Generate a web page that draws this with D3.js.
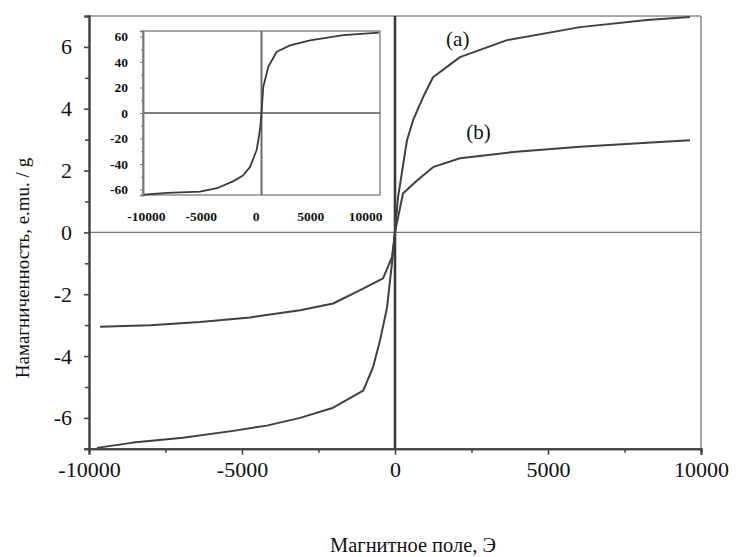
<!DOCTYPE html>
<html>
<head>
<meta charset="utf-8">
<script src="https://cdn.jsdelivr.net/npm/d3@7/dist/d3.min.js"></script>
<style>
  html, body { margin: 0; padding: 0; background: #fff; }
  svg { display: block; }
  text { font-family: "Liberation Serif", "Times New Roman", serif; fill: #111; }
</style>
</head>
<body>
<svg id="chart" width="736" height="557"></svg>
<script>
// ---- data ----
const xTicks = [-10000, -5000, 0, 5000, 10000];
const xMinorTicks = [-7500, -2500, 2500, 7500];
const yTicks = [-6, -4, -2, 0, 2, 4, 6];
const yMinorTicks = [-5, -3, -1, 1, 3, 5];

// curve (a): field (Oe), magnetization (emu/g)
const fieldA = [-9740, -8560, -6930, -5290, -4190, -3100, -2020, -1040, -720, -490, -260, -100, 0, 98, 392, 590, 915, 1242, 2124, 3660, 6050, 8235, 9640];
const magA   = [-6.97, -6.80, -6.64, -6.42, -6.25, -6.00, -5.67, -5.12, -4.37, -3.50, -2.43, -1.00, 0, 1.13, 2.98, 3.63, 4.37, 5.02, 5.67, 6.22, 6.64, 6.87, 6.97];

// curve (b)
const fieldB = [-9640, -8000, -6370, -4740, -3100, -2020, -1140, -390, -100, 0, 261, 720, 1242, 2124, 3860, 6050, 8235, 9640];
const magB   = [-3.05, -3.00, -2.90, -2.75, -2.52, -2.30, -1.87, -1.49, -0.80, 0, 1.26, 1.68, 2.11, 2.40, 2.60, 2.77, 2.90, 2.98];

// inset curve
const fieldIn = [-10700, -8600, -5600, -4060, -2600, -1690, -1050, -440, -140, 0, 165, 620, 1385, 2600, 4420, 7460, 10700];
const magIn   = [-64, -62.7, -61.6, -59, -53.6, -49, -42.5, -29, -13.3, 0, 20.6, 36.3, 48, 53, 57, 61, 63];
const insetXTicks = [-10000, -5000, 0, 5000, 10000];
const insetYTicks = [-60, -40, -20, 0, 20, 40, 60];
const insetYMinor = [-50, -30, -10, 10, 30, 50];

const labelA = "(a)";
const labelB = "(b)";
const xTitle = "Магнитное поле, Э";
const yTitle = "Намагниченность, e.mu. / g";

// ---- layout ----
const svg = d3.select("#chart");
const L = 89, R = 701, T = 16, B = 448.8;
const x = d3.scaleLinear().domain([-10000, 10000]).range([L, R]);
const y = d3.scaleLinear().domain([-7, 7]).range([B, T]);

// frame (top / right)
svg.append("line").attr("x1", L).attr("x2", R).attr("y1", T).attr("y2", T)
  .attr("stroke", "#8a8a8a").attr("stroke-width", 1.5);
svg.append("line").attr("x1", R).attr("x2", R).attr("y1", T).attr("y2", B)
  .attr("stroke", "#8a8a8a").attr("stroke-width", 1.5);

// zero lines
svg.append("line").attr("x1", L).attr("x2", R).attr("y1", y(0)).attr("y2", y(0))
  .attr("stroke", "#7a7a7a").attr("stroke-width", 1.4);
svg.append("line").attr("x1", x(0)).attr("x2", x(0)).attr("y1", T).attr("y2", B)
  .attr("stroke", "#3a3a3a").attr("stroke-width", 2.6);

// axes
const axStyle = g => {
  g.selectAll(".domain").attr("stroke", "#444").attr("stroke-width", 2);
  g.selectAll(".tick line").attr("stroke", "#444").attr("stroke-width", 1.6);
  g.selectAll("text").attr("font-size", 22).attr("font-family", "Liberation Serif").attr("fill", "#111");
};
svg.append("g").attr("transform", `translate(0,${B})`)
  .call(d3.axisBottom(x).tickValues(xMinorTicks).tickFormat("").tickSize(4))
  .call(axStyle);
svg.append("g").attr("transform", `translate(0,${B})`)
  .call(d3.axisBottom(x).tickValues(xTicks).tickSize(6).tickPadding(7).tickFormat(d3.format("d")))
  .call(axStyle);
svg.append("g").attr("transform", `translate(${L},0)`)
  .call(d3.axisLeft(y).tickValues(yMinorTicks).tickFormat("").tickSize(4))
  .call(axStyle);
svg.append("g").attr("transform", `translate(${L},0)`)
  .call(d3.axisLeft(y).tickValues(yTicks).tickSize(5).tickPadding(12).tickFormat(d3.format("d")))
  .call(axStyle);
svg.selectAll("g.tick text").each(function () {
  const t = d3.select(this); t.text(t.text().replace("−", "-"));
});

// curves
const line = d3.line().x(d => x(d[0])).y(d => y(d[1]));
const dataA = fieldA.map((f, i) => [f, magA[i]]);
const dataB = fieldB.map((f, i) => [f, magB[i]]);
[dataA, dataB].forEach(d => {
  svg.append("path").datum(d).attr("d", line)
    .attr("fill", "none").attr("stroke", "#404040").attr("stroke-width", 2)
    .attr("stroke-linejoin", "round");
});

// curve labels
svg.append("text").attr("x", x(2050)).attr("y", y(6.0) - 1).attr("text-anchor", "middle")
  .attr("font-size", 21).text(labelA);
svg.append("text").attr("x", x(2730)).attr("y", y(3.0) - 1).attr("text-anchor", "middle")
  .attr("font-size", 21).text(labelB);

// titles
svg.append("text").attr("x", 413).attr("y", 552).attr("text-anchor", "middle")
  .attr("font-size", 20).attr("textLength", 166).attr("lengthAdjust", "spacingAndGlyphs").text(xTitle);
svg.append("text").attr("transform", "translate(29,268) rotate(-90)").attr("text-anchor", "middle")
  .attr("font-size", 19).text(yTitle);

// ---- inset ----
const iL = 143, iR = 380, iT = 31, iB = 195;
const xi = d3.scaleLinear().domain([-10800, 10800]).range([iL, iR]);
const yi = d3.scaleLinear().domain([-64.3, 64.3]).range([iB, iT]);
const inset = svg.append("g");
inset.append("rect").attr("x", iL).attr("y", iT).attr("width", iR - iL).attr("height", iB - iT)
  .attr("fill", "#fff").attr("stroke", "#8a8a8a").attr("stroke-width", 1.5);
inset.append("line").attr("x1", iL).attr("x2", iR).attr("y1", yi(0)).attr("y2", yi(0))
  .attr("stroke", "#555").attr("stroke-width", 1.3);
inset.append("line").attr("x1", xi(0)).attr("x2", xi(0)).attr("y1", iT).attr("y2", iB)
  .attr("stroke", "#6a6a6a").attr("stroke-width", 2);

const inStyle = g => {
  g.selectAll(".domain").attr("stroke", "#777").attr("stroke-width", 1.5);
  g.selectAll(".tick line").attr("stroke", "#777").attr("stroke-width", 1);
  g.selectAll("text").attr("font-size", 13.5).attr("font-weight", "bold")
    .attr("font-family", "Liberation Serif").attr("fill", "#222");
};
inset.append("g").attr("transform", `translate(${iL},0)`)
  .call(d3.axisLeft(yi).tickValues(insetYMinor).tickFormat("").tickSize(2))
  .call(inStyle);
inset.append("g").attr("transform", `translate(${iL},0)`)
  .call(d3.axisLeft(yi).tickValues(insetYTicks).tickSize(3).tickPadding(12).tickFormat(d3.format("d")))
  .call(inStyle);
const ixAxis = inset.append("g").attr("transform", `translate(-6,${iB})`)
  .call(d3.axisBottom(xi).tickValues(insetXTicks).tickSize(0).tickPadding(16).tickFormat(d3.format("d")))
  .call(inStyle);
ixAxis.select(".domain").remove();
inset.selectAll("g.tick text").each(function () {
  const t = d3.select(this); t.text(t.text().replace("−", "-"));
});

const lineIn = d3.line().x(d => xi(d[0])).y(d => yi(d[1]));
inset.append("path").datum(fieldIn.map((f, i) => [f, magIn[i]])).attr("d", lineIn)
  .attr("fill", "none").attr("stroke", "#3a3a3a").attr("stroke-width", 1.8)
  .attr("stroke-linejoin", "round");
</script>
</body>
</html>
